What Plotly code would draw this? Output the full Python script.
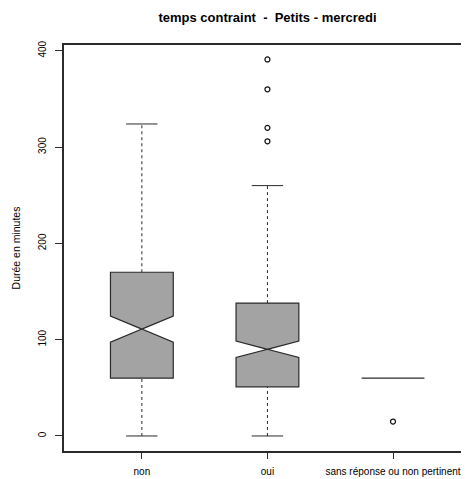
import plotly.graph_objects as go

categories = ["non", "oui", "sans réponse ou non pertinent"]
positions = [1, 2, 3]
q1 = [60, 51, 60]
median = [111, 90, 60]
q3 = [170, 138, 60]
lower_whisker = [0, 0, 60]
upper_whisker = [324, 260, 60]
notch_span = [13.5, 8.5, 0]
outlier_x = [2, 2, 2, 2, 3]
outlier_y = [391, 360, 320, 306, 15]
y_ticks = [0, 100, 200, 300, 400]

BOX_W = 0.5
CAP_W = 0.25
LINE = "#2b2b2b"
FILL = "#A3A3A3"
FONT = "Liberation Sans, Arial, sans-serif"
BODY = 8  # default page body margin

fig = go.Figure()

for i, p in enumerate(positions):
    if upper_whisker[i] > q3[i]:
        fig.add_trace(go.Scatter(x=[p, p], y=[q3[i], upper_whisker[i]], mode="lines",
                                 line=dict(color=LINE, width=1, dash="3px,3px"),
                                 hoverinfo="skip", showlegend=False))
        fig.add_trace(go.Scatter(x=[p - CAP_W / 2, p + CAP_W / 2], y=[upper_whisker[i]] * 2,
                                 mode="lines", line=dict(color=LINE, width=1),
                                 hoverinfo="skip", showlegend=False))
    if lower_whisker[i] < q1[i]:
        fig.add_trace(go.Scatter(x=[p, p], y=[lower_whisker[i], q1[i]], mode="lines",
                                 line=dict(color=LINE, width=1, dash="3px,3px"),
                                 hoverinfo="skip", showlegend=False))
        fig.add_trace(go.Scatter(x=[p - CAP_W / 2, p + CAP_W / 2], y=[lower_whisker[i]] * 2,
                                 mode="lines", line=dict(color=LINE, width=1),
                                 hoverinfo="skip", showlegend=False))

for i, p in enumerate(positions):
    fig.add_trace(go.Box(
        x=[p], q1=[q1[i]], median=[median[i]], q3=[q3[i]],
        lowerfence=[q1[i]], upperfence=[q3[i]],
        notchspan=[notch_span[i]], notched=notch_span[i] > 0, notchwidth=0.5,
        width=BOX_W, whiskerwidth=0, boxpoints=False,
        fillcolor=FILL, line=dict(color=LINE, width=1.2),
        hoverinfo="skip", showlegend=False))

fig.add_trace(go.Scatter(x=outlier_x, y=outlier_y, mode="markers",
                         marker=dict(symbol="circle-open", size=5, color="#111111",
                                     line=dict(width=1.2)),
                         hoverinfo="skip", showlegend=False))

W, H = 469 - BODY, 479 - BODY
fig.update_layout(
    width=W, height=H,
    margin=dict(l=64 - BODY, r=0, t=45 - BODY, b=28),
    paper_bgcolor="white", plot_bgcolor="white",
    font=dict(family=FONT, size=10, color="black"),
    title=dict(text="<b>temps contraint  -  Petits - mercredi</b>",
               x=(267.5 - BODY) / W, xanchor="center", y=1 - (17 - BODY) / H, yanchor="middle",
               font=dict(size=13, family=FONT)),
    xaxis=dict(range=[0.38, 3.605], tickvals=positions, ticktext=categories,
               showgrid=False, zeroline=False, showline=True, mirror=True,
               linecolor=LINE, linewidth=1.5, ticks="outside", ticklen=6,
               tickcolor=LINE, tickfont=dict(size=10), ticklabelstandoff=4),
    yaxis=dict(range=[-15.6, 406], tickvals=y_ticks, ticktext=[str(v) for v in y_ticks],
               tickangle=-90, showgrid=False, zeroline=False, showline=True,
               linecolor=LINE, linewidth=1.5, ticks="outside", ticklen=7,
               tickcolor=LINE, tickfont=dict(size=10), ticklabelstandoff=5,
               title=dict(text="Durée en minutes", font=dict(size=10.5), standoff=15)),
)

fig.write_html("out.html")
